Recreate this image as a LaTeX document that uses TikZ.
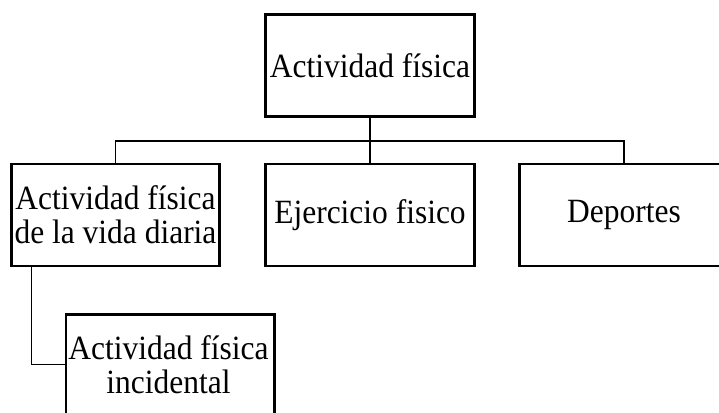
\documentclass[tikz,border=0pt]{standalone}
\usepackage{graphicx}
\usepackage{fontspec}
\setmainfont{Liberation Serif}
\newcommand\txtlines[1]{\scalebox{1}[1.08]{\vbox{\baselineskip=23.4pt\lineskiplimit=-100pt\halign{\hfil##\hfil\cr#1\crcr}}}}
\begin{document}
\begin{tikzpicture}[x=0.75pt,y=-0.75pt,
  box/.style={draw=black,line width=2.2pt,fill=white,rectangle,inner sep=0pt,
    minimum width=156.5pt,minimum height=76.5pt,align=center,
    font=\fontsize{23.6}{23.6}\selectfont},
  link/.style={draw=black,line width=0.8pt}]
\useasboundingbox (0,0) rectangle (719,413);
\clip (0,0) rectangle (719,413);
\node[box] (top) at (370,65.5) {\txtlines{Actividad física}};
\node[box] (b1) at (115.5,215) {\txtlines{Actividad física\cr de la vida diaria}};
\node[box] (b2) at (370,215) {\txtlines{Ejercicio fisico}};
\node[box] (b3) at (624,215) {\txtlines{Deportes}};
\node[box,anchor=north west,minimum height=100pt] (b4) at (64.5,313.5) {};
\node[inner sep=0pt,font=\fontsize{23.6}{23.6}\selectfont] (b4t) at (168.5,364.5) {\txtlines{Actividad física\cr incidental}};
\coordinate (bus) at (370,141);
\draw[link] (top.south) -- (bus);
\draw[link] (b1.north) |- (bus) -| (b3.north);
\draw[link] (bus) -- (b2.north);
\draw[link] ([xshift=16.5pt]b1.south west) |- (b4.west |- b4t.center);
\end{tikzpicture}
\end{document}
